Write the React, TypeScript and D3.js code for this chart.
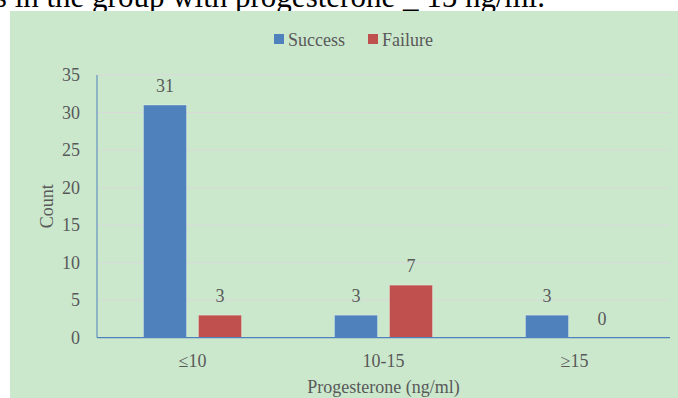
import React from 'react';
import * as d3 from 'd3';

// data
const categories = ['≤10', '10-15', '≥15'];
const seriesNames = ['Success', 'Failure'];
const successCounts = [31, 3, 3];
const failureCounts = [3, 7, 0];
const yTicks = [0, 5, 10, 15, 20, 25, 30, 35];
const captionText = 's in the group with progesterone _ 15 ng/ml.';

const COLORS: Record<string, string> = { Success: '#4f81bd', Failure: '#c0504d' };
const TEXT = '#595959';
const FONT = '"Liberation Serif", "Times New Roman", serif';

const App: React.FC = () => {
  const width = 678;
  const height = 398;
  const plot = { left: 97, right: 670, top: 75, bottom: 337.7 };

  const xScale = d3.scaleBand<string>()
    .domain(categories)
    .range([plot.left, plot.right])
    .paddingInner(0)
    .paddingOuter(0);

  const band = xScale.bandwidth();
  const groupWidth = 98;
  const subScale = d3.scaleBand<string>()
    .domain(seriesNames)
    .range([(band - groupWidth) / 2, (band + groupWidth) / 2])
    .paddingInner(12 / 55)
    .paddingOuter(0);

  const yScale = d3.scaleLinear().domain([0, 35]).range([plot.bottom, plot.top]);

  const rows = categories.map((c, i) => ({
    category: c,
    values: [
      { key: 'Success', value: successCounts[i] },
      { key: 'Failure', value: failureCounts[i] },
    ],
  }));

  return (
    <svg
      width={width}
      height={height}
      style={{ position: 'absolute', left: 0, top: 0, display: 'block' }}
      fontFamily={FONT}
    >
      <rect x={0} y={0} width={width} height={height} fill="#ffffff" />
      {/* caption text cut by the chart box */}
      <text x={545} y={7} textAnchor="end" fontSize={31} fill="#000">{captionText}</text>
      <rect x={10} y={11} width={width - 10} height={height - 11} fill="#cbe8cd" />

      {/* legend */}
      {seriesNames.map((s, i) => {
        const lx = [274, 368][i];
        return (
          <g key={s}>
            <rect x={lx} y={34} width={10} height={10} fill={COLORS[s]} />
            <text x={lx + 14} y={45.5} fontSize={18} fill={TEXT}>{s}</text>
          </g>
        );
      })}

      {/* gridlines */}
      {yTicks.filter(t => t > 0).map(t => (
        <line key={t} x1={plot.left} x2={plot.right} y1={yScale(t)} y2={yScale(t)} stroke="#d9d9d9" strokeWidth={1} />
      ))}

      {/* y tick labels */}
      {yTicks.map(t => (
        <text key={t} x={80} y={yScale(t) + 6} textAnchor="end" fontSize={18} fill={TEXT}>{t}</text>
      ))}

      {/* bars + value labels */}
      {rows.map(r => (
        <g key={r.category} transform={`translate(${xScale(r.category)},0)`}>
          {r.values.map(v => {
            const x = subScale(v.key) as number;
            const y = yScale(v.value);
            return (
              <g key={v.key}>
                {v.value > 0 && (
                  <rect
                    x={x}
                    y={y}
                    width={subScale.bandwidth()}
                    height={plot.bottom - y}
                    fill={COLORS[v.key]}
                    stroke="#ffffff"
                    strokeOpacity={0.3}
                    strokeWidth={1}
                  />
                )}
                <text x={x + subScale.bandwidth() / 2} y={y - 13} textAnchor="middle" fontSize={18} fill={TEXT}>{v.value}</text>
              </g>
            );
          })}
        </g>
      ))}

      {/* axes */}
      <line x1={plot.left} x2={plot.left} y1={plot.top} y2={plot.bottom} stroke="#4f81bd" strokeWidth={1} />
      <line x1={plot.left} x2={plot.right} y1={plot.bottom} y2={plot.bottom} stroke="#4f81bd" strokeWidth={1.2} />

      {/* x tick labels */}
      {categories.map(c => (
        <text key={c} x={(xScale(c) as number) + band / 2} y={367} textAnchor="middle" fontSize={18} fill={TEXT}>{c}</text>
      ))}

      {/* axis titles */}
      <text x={(plot.left + plot.right) / 2} y={393} textAnchor="middle" fontSize={18} fill={TEXT}>Progesterone (ng/ml)</text>
      <text transform={`translate(52.5,${(plot.top + plot.bottom) / 2}) rotate(-90)`} textAnchor="middle" fontSize={18} fill={TEXT}>Count</text>
    </svg>
  );
};

export default App;
